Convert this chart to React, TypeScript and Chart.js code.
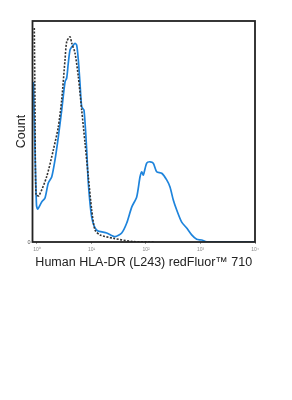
import React, { useEffect, useRef } from "react";
import { Chart, registerables } from "chart.js";

Chart.register(...registerables);

// Fluorescence intensity (x) and count (y) for the stained sample (blue)
const stainedX = [0.862, 0.919, 0.979, 1.03, 1.219, 1.402, 1.612, 1.861, 2.139, 2.459, 2.84, 3.265, 3.508, 3.752, 4.032, 4.332, 4.634, 4.98, 5.35, 5.73, 6.15, 6.61, 7.28, 8.17, 8.74, 10.09, 12.46, 19.0, 27.0, 35.8, 44.3, 54.7, 67.5, 77.6, 83.4, 89.2, 103.0, 118.4, 136.1, 157.1, 194.2, 239.8, 275.7, 316.9, 365.9, 451.9, 558.3, 689.5, 851.8, 1052, 1300, 10000];
const stainedY = [72.4, 41.6, 16.7, 14.9, 18.1, 19.9, 26.7, 29.4, 37.1, 47.5, 59.7, 72.4, 74.2, 81.0, 86.9, 88.2, 89.1, 89.9, 89.1, 82.4, 71.9, 61.1, 59.7, 41.6, 26.7, 11.3, 5.4, 4.1, 2.4, 4.1, 8.6, 15.8, 20.4, 29.4, 31.7, 30.3, 35.7, 36.3, 35.6, 31.8, 31.1, 28.1, 24.9, 19.0, 14.5, 9.0, 6.3, 3.2, 1.2, 0.9, 0.1, 0.1];

// Isotype control (black dashed)
const isotypeX = [0.892, 0.919, 0.959, 1.088, 1.507, 1.991, 2.459, 2.84, 3.265, 3.508, 4.032, 4.332, 4.98, 5.73, 6.61, 7.6, 8.74, 10.09, 11.6, 14.32, 24.8, 57.7, 146];
const isotypeY = [96.8, 64.3, 21.3, 21.0, 29.6, 41.6, 52.1, 64.3, 82.4, 90.6, 92.9, 90.0, 85.5, 74.8, 59.7, 44.8, 29.6, 14.5, 5.4, 3.2, 1.7, 0.2, 0];

const xTickValues = [1, 10, 100, 1000, 10000];
const xTickLabels = ["10⁰", "10¹", "10²", "10³", "10⁴"];
const yTickValues = [0];
const yTickLabels = ["0"];

const xTitle = "Human HLA-DR (L243) redFluor™ 710";
const yTitle = "Count";

const FONT = "'Liberation Sans', Arial, sans-serif";

const frame = {
  id: "frame",
  afterDatasetsDraw(chart: any) {
    const { ctx, chartArea: a } = chart;
    ctx.save();
    ctx.strokeStyle = "#222";
    ctx.lineWidth = 1.8;
    ctx.strokeRect(a.left, a.top, a.right - a.left, a.bottom - a.top);
    ctx.restore();
  },
};

export default function App() {
  const ref = useRef<HTMLCanvasElement>(null);
  useEffect(() => {
    if (!ref.current) return;
    const chart = new Chart(ref.current, {
      type: "line",
      data: {
        datasets: [
          {
            data: stainedX.map((x, i) => ({ x, y: stainedY[i] })),
            borderColor: "#1e84dc",
            borderWidth: 1.7,
            pointRadius: 0,
            tension: 0.25,
            fill: false,
            order: 2,
          },
          {
            data: isotypeX.map((x, i) => ({ x, y: isotypeY[i] })),
            borderColor: "#333",
            borderWidth: 1.6,
            borderDash: [2, 1.5],
            pointRadius: 0,
            tension: 0.25,
            fill: false,
            order: 1,
          },
        ],
      },
      options: {
        responsive: false,
        animation: false,
        devicePixelRatio: 1,
        layout: { padding: { left: 6, right: 29, top: 13, bottom: 37.5 } },
        plugins: { legend: { display: false }, tooltip: { enabled: false } },
        scales: {
          x: {
            type: "logarithmic",
            min: 0.827,
            max: 10000,
            afterBuildTicks: (s: any) => {
              s.ticks = xTickValues.map((v) => ({ value: v }));
            },
            afterFit: (s: any) => {
              s.height = 28.5;
            },
            border: { display: false },
            grid: { drawOnChartArea: false, drawTicks: true, tickLength: 2, color: "#999" },
            ticks: {
              autoSkip: false,
              maxRotation: 0,
              padding: 3,
              color: "#888",
              font: { family: FONT, size: 5 },
              callback: (v: any, i: number) => xTickLabels[i],
            },
            title: {
              display: true,
              text: xTitle,
              color: "#222",
              padding: 0,
              font: { family: FONT, size: 12.5 },
            },
          },
          y: {
            min: 0,
            max: 100,
            afterBuildTicks: (s: any) => {
              s.ticks = yTickValues.map((v) => ({ value: v }));
            },
            afterFit: (s: any) => {
              s.width = 18.5;
            },
            border: { display: false },
            grid: { display: false, drawTicks: false, tickLength: 0 },
            ticks: {
              padding: 2,
              color: "#555",
              font: { family: FONT, size: 5.5 },
              callback: (v: any, i: number) => yTickLabels[i],
            },
            title: {
              display: true,
              text: yTitle,
              color: "#222",
              padding: 0,
              font: { family: FONT, size: 12.5 },
            },
          },
        },
      },
      plugins: [frame],
    });
    return () => chart.destroy();
  }, []);
  return (
    <div style={{ width: 276, height: 300 }}>
      <canvas ref={ref} width={276} height={300} style={{ display: "block" }} />
    </div>
  );
}
